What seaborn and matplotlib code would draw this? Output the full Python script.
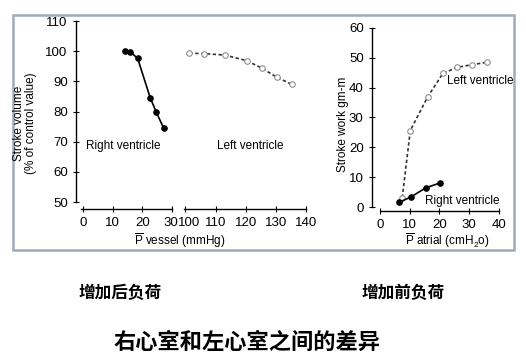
import matplotlib
matplotlib.use("Agg")
import matplotlib.pyplot as plt
import matplotlib.transforms as mtrans
import seaborn as sns
from matplotlib.patches import Rectangle

# afterload data (stroke volume, % of control)
rv_after_x = [14.2, 15.9, 18.4, 22.6, 24.7, 27.1]
rv_after_y = [100.0, 99.8, 97.6, 84.6, 79.7, 74.6]
lv_after_x = [101.3, 106.1, 113.2, 120.5, 125.5, 130.3, 135.3]
lv_after_y = [99.3, 99.2, 98.7, 96.8, 94.3, 91.4, 89.0]

# preload data (stroke work gm-m)
rv_pre_x = [6.5, 10.3, 15.4, 20.3]
rv_pre_y = [1.6, 3.3, 6.4, 8.1]
lv_pre_x = [7.5, 10.2, 16.1, 21.2, 26.0, 31.0, 36.1]
lv_pre_y = [3.1, 25.6, 37.0, 44.8, 46.8, 47.7, 48.5]

left_yticks = [50, 60, 70, 80, 90, 100, 110]
right_yticks = [0, 10, 20, 30, 40, 50, 60]

sns.set_style("ticks")
plt.rcParams['font.family'] = ['Liberation Sans', 'DejaVu Sans']
plt.rcParams['mathtext.fontset'] = 'custom'
plt.rcParams['mathtext.rm'] = 'Liberation Sans'
plt.rcParams['mathtext.it'] = 'Liberation Sans'
plt.rcParams['text.color'] = 'black'
plt.rcParams['xtick.color'] = 'black'
plt.rcParams['ytick.color'] = 'black'
plt.rcParams['axes.edgecolor'] = 'black'
cjk = ['Noto Sans CJK SC', 'DejaVu Sans']

W, H = 526, 360
fig = plt.figure(figsize=(W / 100, H / 100), dpi=100)


def pos(l, t, r, b):
    return [l / W, 1 - b / H, (r - l) / W, (b - t) / H]


ax1 = fig.add_axes(pos(76, 18, 176, 209))
ax2 = fig.add_axes(pos(182, 18, 310, 209))
ax3 = fig.add_axes(pos(372, 22, 505, 211))

solid = dict(color='black', marker='o', markersize=4, linewidth=1.2,
             markerfacecolor='black', markeredgecolor='black')
dashed = dict(color='#333333', marker='o', markersize=4, linewidth=1.2,
              linestyle=(0, (2, 1.5)), markerfacecolor='white',
              markeredgecolor='#888888')

sns.lineplot(x=rv_after_x, y=rv_after_y, ax=ax1, sort=False, **solid)
sns.lineplot(x=lv_after_x, y=lv_after_y, ax=ax2, sort=False, **dashed)
sns.lineplot(x=lv_pre_x, y=lv_pre_y, ax=ax3, sort=False, **dashed)
sns.lineplot(x=rv_pre_x, y=rv_pre_y, ax=ax3, sort=False, **solid)

for ax in (ax1, ax2, ax3):
    ax.set_facecolor('none')
    ax.spines['top'].set_visible(False)
    ax.spines['right'].set_visible(False)
    ax.tick_params(direction='inout', length=4, width=0.8, labelsize=9.5, pad=4)
    ax.spines['left'].set_linewidth(1.0)
    ax.spines['bottom'].set_linewidth(1.0)

ax1.set_xlim(-2.36, 31.3)
ax1.set_ylim(47.68, 111.0)
ax1.set_xticks([0, 10, 20, 30])
ax1.set_yticks(left_yticks)
ax1.spines['left'].set_bounds(50, 110)
ax1.spines['bottom'].set_bounds(-0.6, 30)

ax2.set_xlim(98.84, 141.4)
ax2.set_ylim(47.68, 111.0)
ax2.set_xticks([100, 110, 120, 130, 140])
ax2.set_yticks([])
ax2.spines['left'].set_visible(False)
ax2.spines['bottom'].set_bounds(99.4, 140)

# "30" and "100" sit right next to each other in the original; nudge apart
lab30 = ax1.get_xticklabels()[-1]
lab30.set_transform(lab30.get_transform() + mtrans.ScaledTranslation(-1.5 / 100, 0, fig.dpi_scale_trans))
lab100 = ax2.get_xticklabels()[0]
lab100.set_transform(lab100.get_transform() + mtrans.ScaledTranslation(4 / 100, 0, fig.dpi_scale_trans))

ax3.set_xlim(-2.69, 42.1)
ax3.set_ylim(-1.34, 62.0)
ax3.set_xticks([0, 10, 20, 30, 40])
ax3.set_yticks(right_yticks)
ax3.spines['left'].set_bounds(0, 60)
ax3.spines['bottom'].set_bounds(0.3, 40)

ax1.text(13.5, 68.5, 'Right ventricle', ha='center', va='center', fontsize=8.5)
ax2.text(121.5, 68.5, 'Left ventricle', ha='center', va='center', fontsize=8.5)
ax3.text(33.8, 42.2, 'Left ventricle', ha='center', va='center', fontsize=8.5)
ax3.text(27.6, 2.0, 'Right ventricle', ha='center', va='center', fontsize=8.5)

fig.text(25 / W, 1 - 123 / H, 'Stroke volume\n(% of control value)', rotation=90,
         ha='center', va='center', fontsize=8.5, linespacing=1.1)
fig.text(343 / W, 1 - 124 / H, 'Stroke work gm-m', rotation=90,
         ha='center', va='center', fontsize=8.5)
fig.text(180 / W, 1 - 241 / H, r'$\overline{\mathrm{P}}$ vessel (mmHg)',
         ha='center', va='center', fontsize=8.5)
fig.text(447 / W, 1 - 241 / H, r'$\overline{\mathrm{P}}$ atrial (cmH$_2$o)',
         ha='center', va='center', fontsize=8.5)

fig.add_artist(Rectangle((13 / W, 1 - 250 / H), (514 - 13) / W, (250 - 15) / H,
                         transform=fig.transFigure, fill=False,
                         edgecolor='#9eabbb', linewidth=1.8))

fig.text(120 / W, 1 - 293 / H, '增加后负荷', ha='center', va='center',
         fontsize=12, fontweight='bold', family=cjk)
fig.text(403 / W, 1 - 293 / H, '增加前负荷', ha='center', va='center',
         fontsize=12, fontweight='bold', family=cjk)
fig.text(247 / W, 1 - 342 / H, '右心室和左心室之间的差异', ha='center', va='center',
         fontsize=16, fontweight='bold', family=cjk)

fig.savefig('out.png', dpi=100)
